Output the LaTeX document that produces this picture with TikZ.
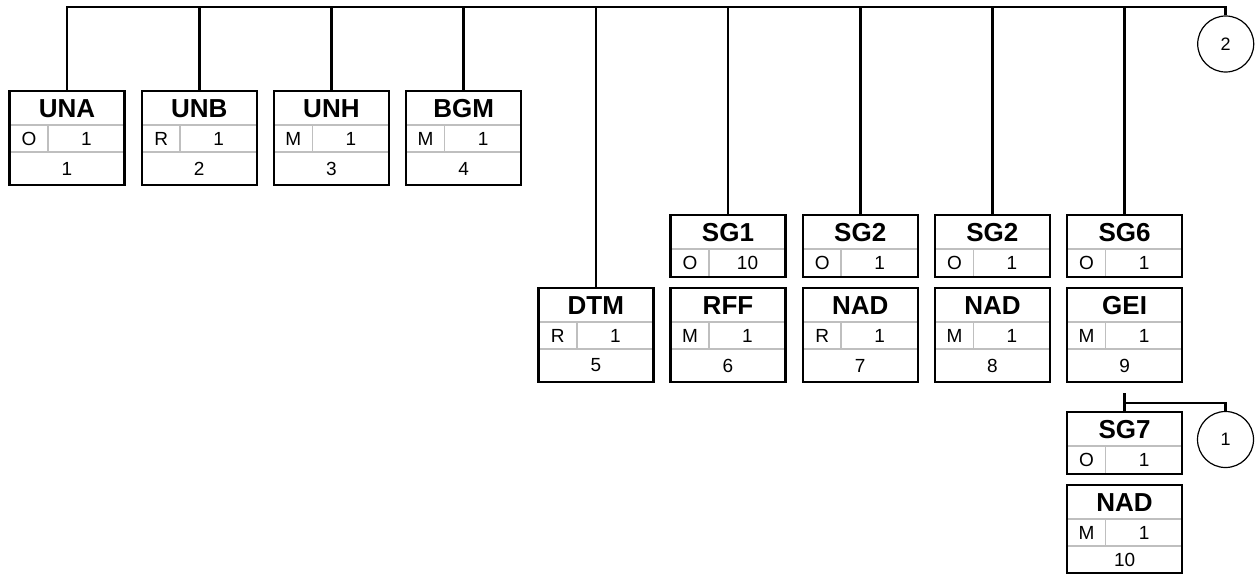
\documentclass[tikz,border=0pt]{standalone}
\usepackage{fontspec}
\setmainfont{Liberation Sans}
\usetikzlibrary{calc}
\tikzset{
  frame/.style={draw=black, line width=2.4pt, fill=none, inner sep=0pt, outer sep=0pt, minimum width=115pt, anchor=north west},
  divider/.style={draw=black!25, line width=1.6pt},
  conn/.style={draw=black, line width=2.6pt},
  hdr/.style={font=\bfseries\fontsize{26}{26}\selectfont, inner sep=0pt},
  cell/.style={font=\fontsize{19}{19}\selectfont, inner sep=0pt},
  refc/.style={draw=black, line width=1.2pt, circle, minimum size=56pt, inner sep=0pt, font=\fontsize{18}{18}\selectfont},
}
% three-row box: name, x, y, header, status, repeat, number, height of row 3
\newcommand\segthree[8]{%
  \draw[divider] (#2,#3+34) -- (#2+115,#3+34);
  \draw[divider] (#2,#3+61) -- (#2+115,#3+61);
  \draw[divider] (#2+38.5,#3+34) -- (#2+38.5,#3+61);
  \node[frame, minimum height={61+#8}] (#1) at (#2,#3) {};
  \node[hdr] at (#2+57.5,#3+17.5) {#4};
  \node[cell] at (#2+19.5,#3+47.5) {#5};
  \node[cell] at (#2+77,#3+47.5) {#6};
  \node[cell] at (#2+57.5,#3+61+#8/2) {#7};
}
% two-row box: name, x, y, header, status, repeat
\newcommand\segtwo[6]{%
  \draw[divider] (#2,#3+34) -- (#2+115,#3+34);
  \draw[divider] (#2+38.5,#3+34) -- (#2+38.5,#3+62);
  \node[frame, minimum height=62] (#1) at (#2,#3) {};
  \node[hdr] at (#2+57.5,#3+17.5) {#4};
  \node[cell] at (#2+19.5,#3+48) {#5};
  \node[cell] at (#2+77,#3+48) {#6};
}
\begin{document}
\begin{tikzpicture}[x=1pt,y=-1pt]
\useasboundingbox (0,0) rectangle (1257,575);

\segthree{una}{9.5}{91}{UNA}{O}{1}{1}{33}
\segthree{unb}{141.7}{91}{UNB}{R}{1}{2}{33}
\segthree{unh}{273.9}{91}{UNH}{M}{1}{3}{33}
\segthree{bgm}{406.1}{91}{BGM}{M}{1}{4}{33}
\segthree{dtm}{538.3}{288}{DTM}{R}{1}{5}{33}
\segtwo{sgone}{670.5}{215}{SG1}{O}{10}
\segthree{rff}{670.5}{288}{RFF}{M}{1}{6}{33}
\segtwo{sgtwoa}{802.7}{215}{SG2}{O}{1}
\segthree{nada}{802.7}{288}{NAD}{R}{1}{7}{33}
\segtwo{sgtwob}{934.9}{215}{SG2}{O}{1}
\segthree{nadb}{934.9}{288}{NAD}{M}{1}{8}{33}
\segtwo{sgsix}{1067.1}{215}{SG6}{O}{1}
\segthree{gei}{1067.1}{288}{GEI}{M}{1}{9}{33}
\segtwo{sgseven}{1067.1}{412}{SG7}{O}{1}
\segthree{nadc}{1067.1}{485}{NAD}{M}{1}{10}{27}

\node[refc] (ctwo) at (1225.7,44) {2};
\node[refc] (cone) at (1225.5,439.5) {1};

\coordinate (busR) at (1225.7,7);
\draw[conn] (una.north) |- (busR) -- (ctwo.north);
\foreach \n in {unb,unh,bgm,dtm,sgone,sgtwoa,sgtwob,sgsix}
  \draw[conn] (\n.north) -- (\n.north |- busR);

\coordinate (jtop) at (1124.6,393);
\coordinate (jmid) at (1124.6,403);
\draw[conn] (jtop) -- (sgseven.north);
\draw[conn] (jmid) -| (cone.north);
\end{tikzpicture}
\end{document}
